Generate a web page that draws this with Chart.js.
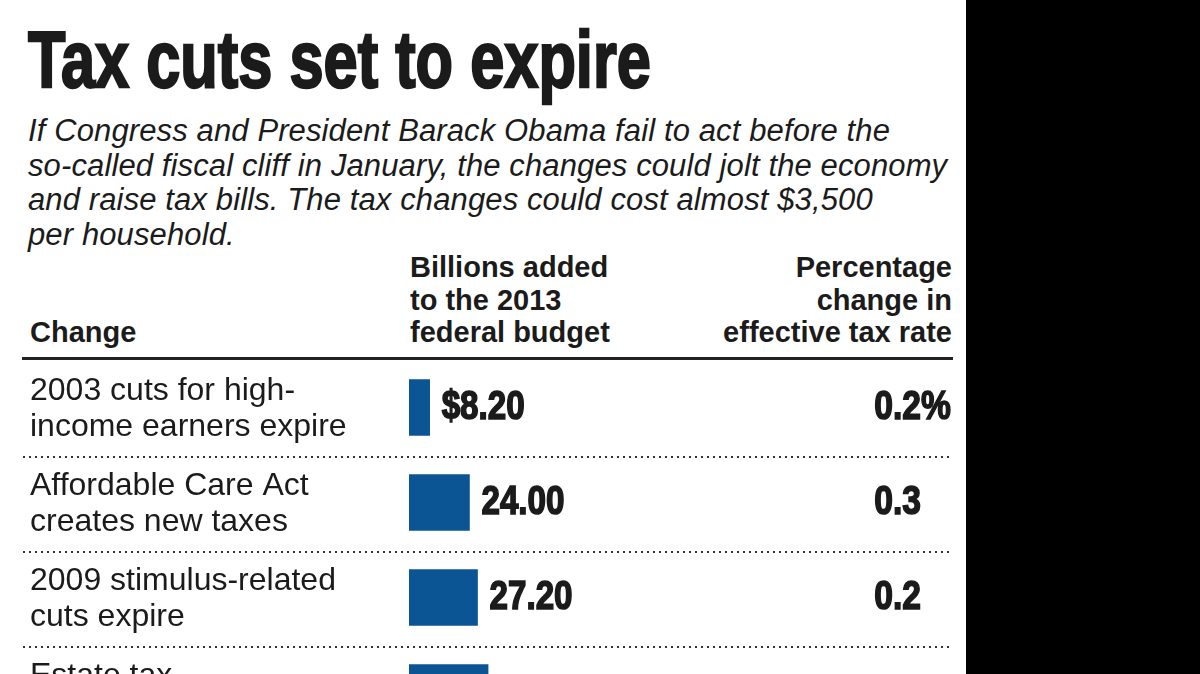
<!DOCTYPE html>
<html>
<head>
<meta charset="utf-8">
<script src="https://cdn.jsdelivr.net/npm/chart.js@4.4.1/dist/chart.umd.min.js"></script>
<style>
  html, body { margin: 0; padding: 0; }
  body { width: 1200px; height: 674px; overflow: hidden; background: #000; }
  #panel { position: absolute; left: 0; top: 0; width: 966px; height: 674px; background: #fff; overflow: hidden; color: #1b1b1b; }
  .title { position: absolute; left: 28px; top: 20px; font: bold 80px/80px "Liberation Sans", Arial, sans-serif;
           white-space: nowrap; transform: scaleX(0.767); transform-origin: 0 0; -webkit-text-stroke: 2.4px #1b1b1b; }
  .intro { position: absolute; left: 28px; top: 114px; font: italic 31px/34.5px "Liberation Sans", Arial, sans-serif;
           letter-spacing: 0.12px; white-space: nowrap; }
  .head { position: absolute; font: bold 29px/32.5px "Liberation Sans", Arial, sans-serif; white-space: nowrap; }
  .rule { position: absolute; left: 22px; top: 357px; width: 931px; height: 3px; background: #222; }
  #wrap { position: absolute; left: 0; top: 360px; width: 966px; height: 380px; }
</style>
</head>
<body>
<div id="panel">
  <div class="title">Tax cuts set to expire</div>
  <div class="intro">If Congress and President Barack Obama fail to act before the<br>so-called fiscal cliff in January, the changes could jolt the economy<br>and raise tax bills. The tax changes could cost almost $3,500<br>per household.</div>
  <div class="head" style="left:30px; top:316px;">Change</div>
  <div class="head" style="left:410px; top:251px;">Billions added<br>to the 2013<br>federal budget</div>
  <div class="head" style="right:14px; top:251px; text-align:right;">Percentage<br>change in<br>effective tax rate</div>
  <div class="rule"></div>
  <div id="wrap"><canvas id="taxChart"></canvas></div>
</div>
<script>
"use strict";

// rows of the table
var changes = [
    ['2003 cuts for high-', 'income earners expire'],
    ['Affordable Care Act', 'creates new taxes'],
    ['2009 stimulus-related', 'cuts expire'],
    ['Estate tax']
];
var billions = [8.2, 24.0, 27.2, 31.4];
var pctChange = [0.2, 0.3, 0.2, null];

var barColor = '#0b5595';
var inkColor = '#1b1b1b';

function squeezed(ctx, text, x, y, sx, align) {
    ctx.save();
    ctx.translate(x, y);
    ctx.scale(sx, 1);
    ctx.textAlign = align;
    ctx.fillText(text, 0, 0);
    ctx.strokeText(text, 0, 0);
    ctx.restore();
}

var tableText = {
    id: 'tableText',
    afterDatasetsDraw: function (chart) {
        var ctx = chart.ctx;
        var meta = chart.getDatasetMeta(0);
        var yScale = chart.scales.y;
        ctx.save();

        // dotted separators between rows
        ctx.fillStyle = '#333';
        for (var r = 1; r < changes.length; r++) {
            var sy = Math.round((yScale.getPixelForValue(r - 1) + yScale.getPixelForValue(r)) / 2) + 1;
            for (var dx = 23; dx < 953; dx += 6) {
                ctx.fillRect(dx, sy, 2, 2);
            }
        }

        meta.data.forEach(function (bar, i) {
            var cy = bar.y;
            // row label
            ctx.fillStyle = inkColor;
            ctx.font = '32px "Liberation Sans", Arial, sans-serif';
            ctx.textAlign = 'left';
            ctx.textBaseline = 'middle';
            changes[i].forEach(function (line, k) {
                ctx.fillText(line, 30, cy - 16 + k * 36);
            });

            // bold condensed numbers
            ctx.font = 'bold 40px "Liberation Sans", Arial, sans-serif';
            ctx.textBaseline = 'alphabetic';
            ctx.strokeStyle = inkColor;
            ctx.lineWidth = 1.6;
            var val = (i === 0 ? '$' : '') + billions[i].toFixed(2);
            squeezed(ctx, val, bar.x + 12, cy + 11, 0.83, 'left');

            if (pctChange[i] !== null) {
                squeezed(ctx, pctChange[i].toFixed(1), 921, cy + 11, 0.84, 'right');
                if (i === 0) {
                    squeezed(ctx, '%', 921, cy + 11, 0.84, 'left');
                }
            }
        });
        ctx.restore();
    }
};

var taxChart = new Chart(document.getElementById('taxChart'), {
    type: 'bar',
    data: {
        labels: changes.map(function (c) { return c.join(' '); }),
        datasets: [{
            label: 'Billions added to the 2013 federal budget',
            data: billions,
            backgroundColor: barColor,
            borderWidth: 0,
            barThickness: 56
        }]
    },
    options: {
        indexAxis: 'y',
        responsive: true,
        maintainAspectRatio: false,
        animation: false,
        layout: {
            padding: { left: 409, right: 13, top: 0, bottom: 0 }
        },
        plugins: {
            legend: { display: false },
            tooltip: { enabled: false }
        },
        scales: {
            x: {
                min: 0,
                max: 216,
                display: false,
                grid: { display: false }
            },
            y: {
                display: false,
                grid: { display: false }
            }
        }
    },
    plugins: [tableText]
});
</script>
</body>
</html>
